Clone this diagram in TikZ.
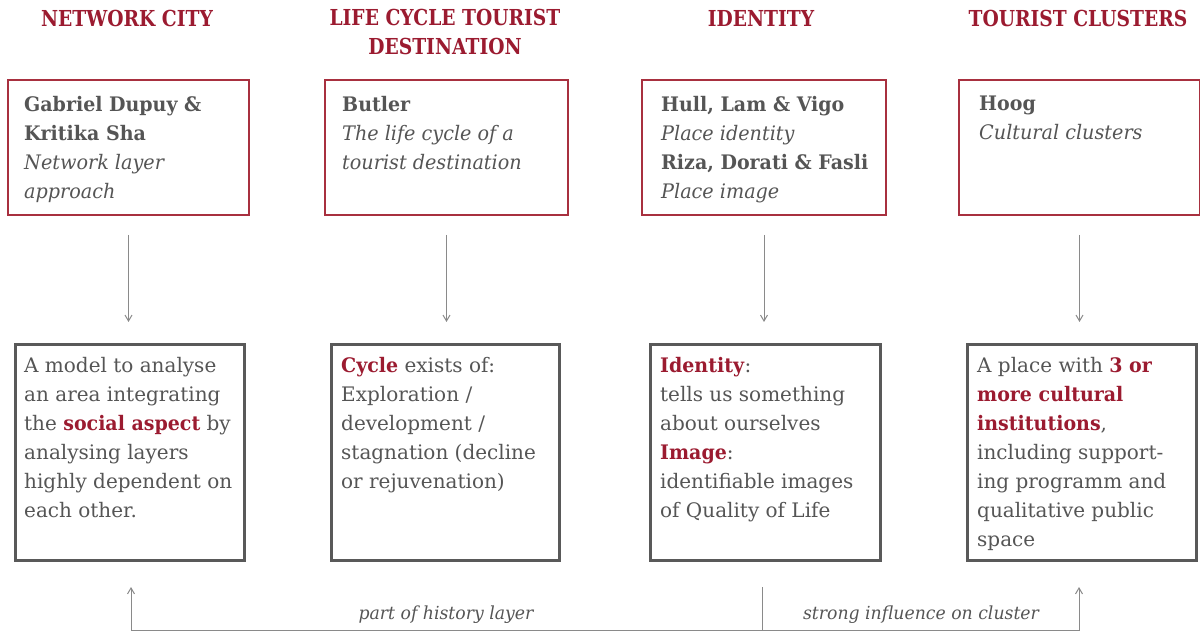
\documentclass[tikz,border=0pt]{standalone}
\usepackage{fontspec}
\setmainfont{DejaVu Serif}[BoldFeatures={FakeStretch=0.95},ItalicFeatures={FakeStretch=0.96},BoldItalicFeatures={FakeStretch=0.95}]
\newfontfamily\titlefont{DejaVu Serif}[FakeStretch=0.85]
\usetikzlibrary{arrows.meta,calc}
\definecolor{dred}{HTML}{9B1B30}
\definecolor{bred}{HTML}{A8303F}
\definecolor{txt}{HTML}{555555}
\definecolor{boxgray}{HTML}{595959}
\definecolor{lgray}{HTML}{8A8A8A}
\newcommand{\hl}[1]{\textcolor{dred}{\textbf{#1}}}
\tikzset{
  title/.style={font=\titlefont\fontsize{22}{29}\selectfont\bfseries, text=dred, align=center, inner sep=0pt},
  redbox/.style={draw=bred, line width=2pt, anchor=north west, inner sep=0pt},
  graybox/.style={draw=boxgray, line width=3pt, anchor=north west, inner sep=0pt},
  boxtext/.style={font=\fontsize{20}{29}\selectfont, text=txt, align=left, anchor=north west, inner sep=0pt},
  conn/.style={draw=lgray, line width=1pt},
  tip/.style={-{Straight Barb[length=6pt,width=7pt]}},
  lab/.style={font=\fontsize{18}{22}\selectfont\itshape, text=txt, inner sep=0pt}
}
\begin{document}
\begin{tikzpicture}[x=1pt,y=-1pt]
\useasboundingbox (0,0) rectangle (1200,636);
% titles
\node[title] (h1) at (127,18) {NETWORK CITY};
\node[title, anchor=north] (h2) at (445,9) {LIFE CYCLE TOURIST\\DESTINATION};
\node[title] (h3) at (761,18) {IDENTITY};
\node[title] (h4) at (1078,18) {TOURIST CLUSTERS};
% top boxes
\node[redbox, minimum width=241pt, minimum height=135pt] (t1) at (7,79) {};
\node[redbox, minimum width=243pt, minimum height=135pt] (t2) at (324,79) {};
\node[redbox, minimum width=244pt, minimum height=135pt] (t3) at (641,79) {};
\node[redbox, minimum width=241pt, minimum height=135pt] (t4) at (958,79) {};
\node[boxtext] (tt1) at (24,96) {\textbf{Gabriel Dupuy \&}\\\textbf{Kritika Sha}\\\textit{Network layer}\\\textit{approach}};
\node[boxtext] (tt2) at (342,96) {\textbf{Butler}\\\textit{The life cycle of a}\\\textit{tourist destination}};
\node[boxtext] (tt3) at (661,96) {\textbf{Hull, Lam \& Vigo}\\\textit{Place identity}\\\textbf{Riza, Dorati \& Fasli}\\\textit{Place image}};
\node[boxtext] (tt4) at (979,96) {\textbf{Hoog}\\\textit{Cultural clusters}};
% bottom boxes
\node[graybox, minimum width=229pt, minimum height=216pt] (b1) at (14,343) {};
\node[graybox, minimum width=228pt, minimum height=216pt] (b2) at (330,343) {};
\node[graybox, minimum width=230pt, minimum height=216pt] (b3) at (649,343) {};
\node[graybox, minimum width=229pt, minimum height=216pt] (b4) at (966,343) {};
\node[boxtext] (bt1) at (24,357) {A model to analyse\\an area integrating\\the \hl{social aspect} by\\analysing layers\\highly dependent on\\each other.};
\node[boxtext] (bt2) at (341,357) {\hl{Cycle} exists of:\\Exploration /\\development /\\stagnation (decline\\or rejuvenation)};
\node[boxtext] (bt3) at (660,357) {\hl{Identity}:\\tells us something\\about ourselves\\\hl{Image}:\\identifiable images\\of Quality of Life};
\node[boxtext] (bt4) at (977,357) {A place with \hl{3 or}\\\hl{more cultural}\\\hl{institutions},\\including support-\\ing programm and\\qualitative public\\space};
% vertical arrows
\foreach \i in {1,2,3,4}{
  \draw[conn,tip,shorten <=19pt,shorten >=21pt] (t\i.south) -- (t\i.south |- b\i.north);
}
% bottom connector
\coordinate (a1) at (131,587);
\coordinate (a3) at (762,587);
\coordinate (a4) at (1079,587);
\coordinate (k1) at (131,630);
\coordinate (k3) at (762,630);
\coordinate (k4) at (1079,630);
\draw[conn,{Straight Barb[length=6pt,width=7pt]}-{Straight Barb[length=6pt,width=7pt]}] (a1) -- (k1) -- (k4) -- (a4);
\draw[conn] (a3) -- (k3);
\node[lab] (l1) at (446,615) {part of history layer};
\node[lab] (l2) at (921,615) {strong influence on cluster};
\end{tikzpicture}
\end{document}
